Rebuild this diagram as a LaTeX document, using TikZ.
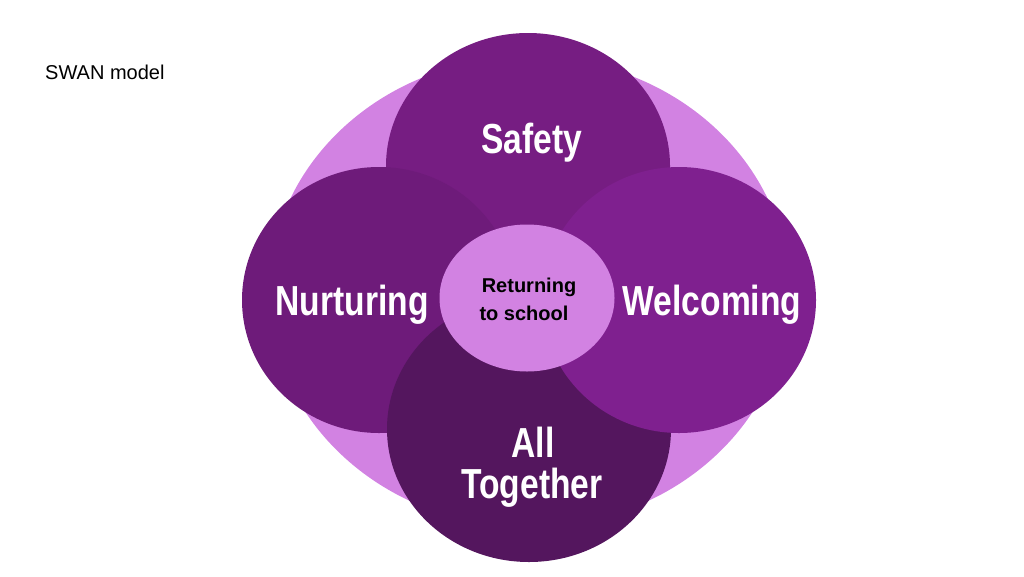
\documentclass[tikz,border=0pt]{standalone}
\usepackage{fontspec}
\setmainfont{Liberation Sans}
\newfontfamily\petalfont[FakeStretch=0.8]{Liberation Sans}
\usetikzlibrary{shapes.geometric, positioning}

\definecolor{lilac}{RGB}{210,130,226}
\definecolor{safetyc}{RGB}{118,29,130}
\definecolor{nurturec}{RGB}{110,27,122}
\definecolor{welcomec}{RGB}{127,32,143}
\definecolor{togetherc}{RGB}{84,22,94}

\begin{document}
\begin{tikzpicture}[x=1pt, y=-1pt,
        petal/.style={ellipse, inner sep=0pt, minimum width=284pt, minimum height=266pt},
        word/.style={anchor=base, inner sep=0pt, text=white, font=\petalfont\bfseries\fontsize{42}{46}\selectfont},
        small/.style={anchor=base, inner sep=0pt, font=\bfseries\fontsize{20}{24}\selectfont}]
        \useasboundingbox (0,0) rectangle (1024,576);
        \node[anchor=base west, inner sep=0pt, font=\fontsize{20}{24}\selectfont] (title) at (45,79) {SWAN model};
        \node[ellipse, fill=lilac, inner sep=0pt, minimum width=520pt, minimum height=470pt] (ring) at (529,292) {};
        \node[petal, fill=safetyc] (n1) at (528,166) {};
        \node[petal, fill=nurturec, minimum width=274pt] (n2) at (379,300) {};
        \node[petal, fill=togetherc] (n4) at (529,429) {};
        \node[petal, fill=welcomec, minimum width=274pt] (n3) at (679,300) {};
        \node[ellipse, fill=lilac, inner sep=0pt, minimum width=175pt, minimum height=147pt] (n5) at (527,298) {};
        \node[word] (t1) at (532,153) {Safety};
        \node[word] (t2) at (352,315) {Nurturing};
        \node[word] (t3) at (712,315) {Welcoming};
        \node[word] (t4) at (533,457) {All};
        \node[word] (t5) at (532,498) {Together};
        \node[small] (t6) at (529,292) {Returning};
        \node[small] (t7) at (524,320) {to school};
\end{tikzpicture}
\end{document}
